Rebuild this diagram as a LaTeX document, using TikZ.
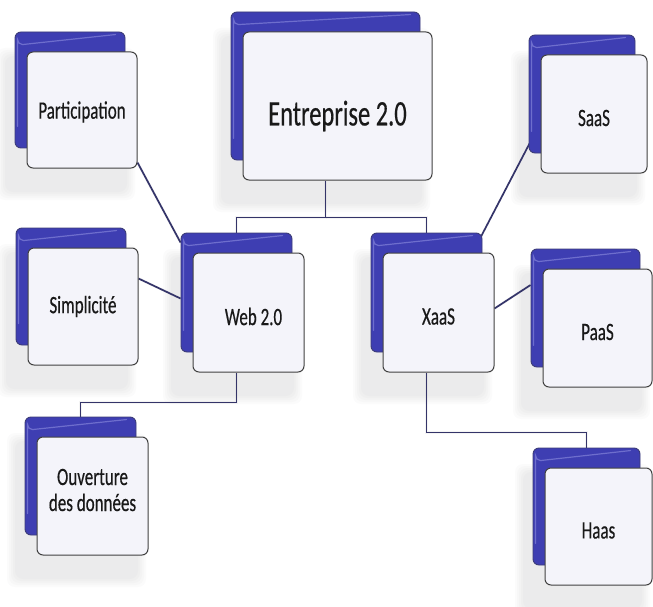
\documentclass[tikz,border=0pt]{standalone}
\usepackage{fontspec}
\setmainfont{Carlito}[FakeStretch=0.68, FakeBold=0.4]
\usetikzlibrary{calc}

\definecolor{tileblue}{RGB}{62,62,178}
\definecolor{tileblueedge}{RGB}{60,60,120}
\definecolor{tilebluelight}{RGB}{110,110,205}
\definecolor{tileface}{RGB}{244,244,250}
\definecolor{tileedge}{RGB}{65,65,65}
\definecolor{linkcol}{RGB}{52,52,105}
\definecolor{shadowcol}{RGB}{150,150,155}

\pgfdeclarelayer{canvas}
\pgfdeclarelayer{shade}
\pgfdeclarelayer{links}
\pgfsetlayers{canvas,shade,links,main}

\tikzset{
  bluebox/.style={draw=tileblueedge, fill=tileblue, line width=0.9pt,
    rounded corners=6pt, inner sep=0pt},
  facebox/.style={draw=tileedge, fill=tileface, line width=1pt,
    rounded corners=6pt, inner sep=0pt},
  tiletext/.style={align=center, inner sep=0pt,
    font=\fontsize{25}{26}\selectfont, text=black!90},
  bigtext/.style={font=\fontsize{36}{38}\selectfont},
  link/.style={draw=linkcol, line width=1.7pt},
  linkshade/.style={draw=shadowcol, line width=2.5pt, opacity=0.1},
}

% \tile[text style]{name}{x1}{y1}{x2}{y2}{label}{text drop}
% front face from (x1,y1) to (x2,y2); blue back tile and soft shadow behind it
\newcommand{\tile}[8][]{%
  \pgfmathsetmacro\tcx{(#3+#5)/2}%
  \pgfmathsetmacro\tcy{(#4+#6)/2}%
  \pgfmathsetmacro\tilew{#5-#3}%
  \pgfmathsetmacro\tileh{#6-#4}%
  \begin{pgfonlayer}{shade}
    \foreach \r in {8,6,4,2,0}
      \fill[shadowcol, opacity=0.035, rounded corners=8pt]
        (#3-22-\r,#4+4-\r) rectangle (#5-10+\r,#6+24+\r);
  \end{pgfonlayer}
  \node[bluebox, minimum width=\tilew pt, minimum height=\tileh pt]
    (#2b) at (\tcx-12,\tcy-20) {};
  % light rim along the left and top of the back tile
  \draw[tilebluelight, line width=1.2pt, line cap=round]
    ($(#2b.south west)+(3,-22)$) -- ($(#2b.north west)+(3,8)$)
    arc[start angle=180, end angle=90, radius=5]
    -- ($(#2b.north east)+(-10,3)$);
  \node[facebox, minimum width=\tilew pt, minimum height=\tileh pt]
    (#2) at (\tcx,\tcy) {};
  \node[tiletext, #1] (#2t) at ($(#2.center)+(0,#8)$) {#7};
}

\begin{document}
\begin{tikzpicture}[x=1pt,y=-1pt]
  \begin{pgfonlayer}{canvas}
    \fill[white] (0,0) rectangle (653,607);
  \end{pgfonlayer}
  \useasboundingbox (0,0) rectangle (653,607);

  \tile[bigtext]{ent}{243}{32}{432}{180}{Entreprise 2.0}{10}
  \tile{part}{27}{52}{137}{168}{Participation}{2}
  \tile{simp}{28}{248}{138}{365}{Simplicité}{0}
  \tile[xshift=5]{web}{193}{253}{304}{372}{Web 2.0}{4}
  \tile{xaas}{383}{253}{494}{372}{XaaS}{4}
  \tile{saas}{541}{55}{647}{173}{SaaS}{4}
  \tile{paas}{543}{269}{652}{387}{PaaS}{4}
  \tile{ouv}{37}{437}{148}{555}{Ouverture\\des données}{-6}
  \tile{haas}{545}{468}{652}{585}{Haas}{4}

  \begin{pgfonlayer}{links}
    % faint reflections of the connectors
    \begin{scope}[shift={(-10,24)}]
      \path[linkshade] (entb.south |- ent.south) -- ++(0,37) coordinate (jr)
        -| (webb.north);
      \path[linkshade] (jr) -| (xaasb.north);
      \path[linkshade] ($(part.south east)+(0,-6)$) -- ($(webb.north west)+(0,10)$);
      \path[linkshade] ($(simp.east)+(0,-28)$) -- ($(webb.west)+(0,6)$);
      \path[linkshade] (webb.south |- web.south) -- ++(0,30) -| (ouvb.north);
      \path[linkshade] (xaasb.south |- xaas.south) -- ++(0,60) -| (haasb.north);
      \path[linkshade] ($(xaas.east)+(0,-4)$) -- ($(paasb.west)+(0,-23)$);
    \end{scope}

    % tree connectors
    \draw[link] (entb.south |- ent.south) -- ++(0,37) coordinate (j)
      -| (webb.north);
    \draw[link] (j) -| (xaasb.north);
    \draw[link] ($(part.south east)+(0,-6)$) -- ($(webb.north west)+(0,10)$);
    \draw[link] ($(simp.east)+(0,-28)$) -- ($(webb.west)+(0,6)$);
    \draw[link] (webb.south |- web.south) -- ++(0,30) -| (ouvb.north);
    \draw[link] (xaasb.south |- xaas.south) -- ++(0,60) -| (haasb.north);
    \draw[link] ($(xaasb.north east)+(-3,7)$) -- ($(saasb.south west)+(1,-10)$);
    \draw[link] ($(xaas.east)+(0,-4)$) -- ($(paasb.west)+(0,-23)$);
  \end{pgfonlayer}
\end{tikzpicture}
\end{document}
